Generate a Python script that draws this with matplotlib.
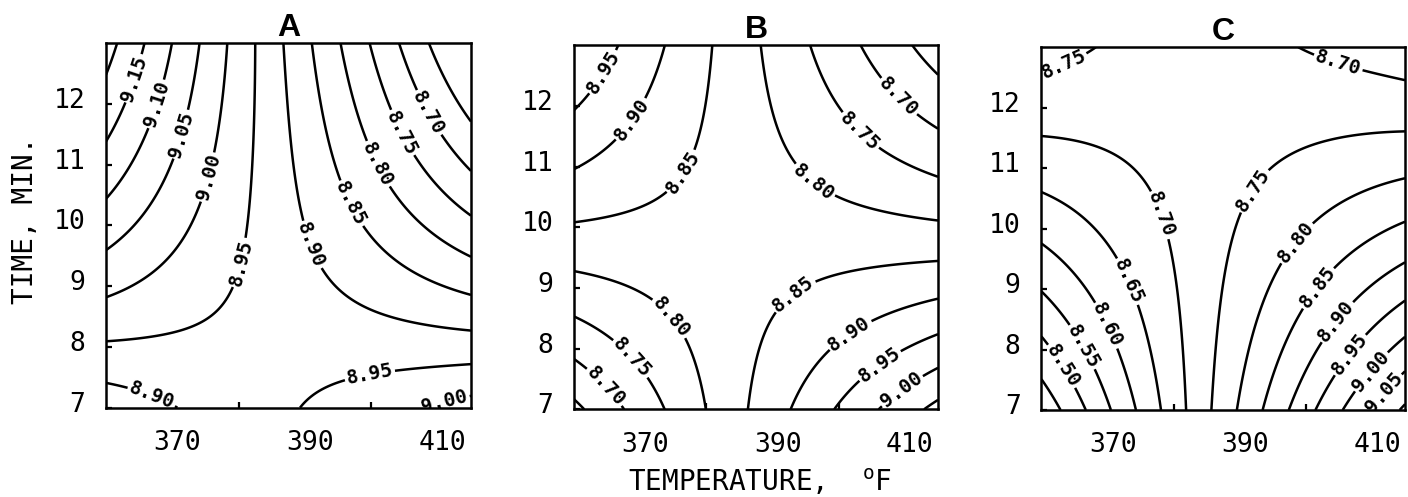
import numpy as np
import matplotlib.pyplot as plt
from matplotlib.transforms import ScaledTranslation

plt.rcParams['font.family'] = 'DejaVu Sans Mono'
plt.rcParams['mathtext.fontset'] = 'custom'
plt.rcParams['mathtext.rm'] = 'DejaVu Sans Mono'

# fitted response surface, coded units u=(T-387.5)/27.5, v=(t-10)/3
# term order: 1, u, v, u^2, uv, v^2, u^2 v, u v^2, u^3, v^3
a_coef = [8.9139, -0.1588, -0.0251, 0.0042, -0.1974, 0.0043, 0.0055, 0.0343, 0.0023, -0.0021]
b_coef = [8.8273, -0.0185, -0.0273, -0.0007, -0.2002, 0.0049, 0.0078, 0.0323, 0.0000, -0.0001]
c_coef = [8.7415, 0.1303, -0.0274, -0.0049, -0.1989, 0.0037, 0.0077, 0.0277, -0.0086, -0.0008]

a_levels = [8.65, 8.70, 8.75, 8.80, 8.85, 8.90, 8.95, 9.00, 9.05, 9.10, 9.15, 9.20]
b_levels = [8.65, 8.70, 8.75, 8.80, 8.85, 8.90, 8.95, 9.00, 9.05]
c_levels = [8.45, 8.50, 8.55, 8.60, 8.65, 8.70, 8.75, 8.80, 8.85, 8.90, 8.95, 9.00, 9.05, 9.10]

# where each contour gets its value written (temperature, time)
a_label_pos = [(362.6, 12.48), (365.6, 12.07), (369.5, 11.56), (372.8, 10.87), (376.0, 9.50),
               (394.1, 9.81), (399.5, 10.50), (403.1, 11.13), (406.3, 11.62), (410.5, 11.97),
               (367.8, 7.46), (399.3, 7.82), (411.0, 7.12)]
b_label_pos = [(363.2, 12.64), (366.7, 11.93), (373.5, 11.11),
               (398.4, 11.05), (405.0, 11.79), (410.5, 12.31),
               (376.5, 8.69), (370.5, 8.03), (366.5, 7.56),
               (391.9, 9.08), (400.2, 8.47), (404.7, 7.95), (408.2, 7.51)]
c_label_pos = [(364.0, 12.55), (403.9, 12.40),
               (380.2, 10.31), (375.2, 9.23), (371.6, 8.49), (367.6, 8.13), (364.6, 7.83),
               (390.8, 10.72), (397.1, 9.89), (400.6, 9.12), (403.4, 8.57), (405.4, 8.02),
               (408.4, 7.77), (410.5, 7.41)]

temp_lim = (360, 415)
time_lim = (7, 13)
temp_labels = [370, 390, 410]
temp_ticks = [380, 400]
time_ticks = [7, 8, 9, 10, 11, 12]


def surface(coef, temp, time):
    u = (temp - 387.5) / 27.5
    v = (time - 10.0) / 3.0
    t = np.stack([np.ones_like(u), u, v, u * u, u * v, v * v, u * u * v, u * v * v, u ** 3, v ** 3], axis=-1)
    return t @ np.array(coef)


fig = plt.figure(figsize=(14.08, 4.97), dpi=100)
boxes = [[0.0753, 0.1797, 0.2592, 0.7332], [0.4077, 0.1765, 0.2585, 0.7324], [0.7397, 0.175, 0.2582, 0.730]]
panels = [('A', a_coef, a_levels, a_label_pos),
          ('B', b_coef, b_levels, b_label_pos),
          ('C', c_coef, c_levels, c_label_pos)]

tt, mm = np.meshgrid(np.linspace(temp_lim[0], temp_lim[1], 300), np.linspace(time_lim[0], time_lim[1], 300))
for box, (name, coef, levels, label_pos) in zip(boxes, panels):
    ax = fig.add_axes(box)
    zz = surface(coef, tt, mm)
    cs = ax.contour(tt, mm, zz, levels=levels, colors='black', linewidths=1.8)
    lbl = ax.clabel(cs, fmt='%.2f', manual=label_pos, inline=True, inline_spacing=2, fontsize=14)
    for t in lbl:
        t.set_fontweight('bold')

    ax.set_xlim(*temp_lim)
    ax.set_ylim(*time_lim)
    ax.set_xticks(temp_labels)
    ax.set_xticks(temp_ticks, minor=True)
    ax.set_yticks(time_ticks)
    ax.tick_params(axis='x', which='major', length=0, pad=16, labelsize=19)
    ax.tick_params(axis='x', which='minor', direction='in', length=4, width=1.6)
    ax.tick_params(axis='y', direction='in', length=4, width=1.6, pad=15, labelsize=19)
    for lab in ax.get_xticklabels():
        lab.set_transform(lab.get_transform() + ScaledTranslation(0.05, 0, fig.dpi_scale_trans))
    for lab in ax.get_yticklabels():
        lab.set_transform(lab.get_transform() + ScaledTranslation(0, 0.06, fig.dpi_scale_trans))
    for s in ax.spines.values():
        s.set_linewidth(1.8)
    ax.set_title(name, fontsize=23, fontweight='bold', family='Liberation Sans', pad=1)

fig.text(0.018, 0.557, 'TIME, MIN.', rotation=90, ha='center', va='center', fontsize=20)
fig.text(0.54, 0.03, r'TEMPERATURE,  $^{\rm o}$F', ha='center', va='center', fontsize=20)

fig.savefig('out.png', dpi=100)
